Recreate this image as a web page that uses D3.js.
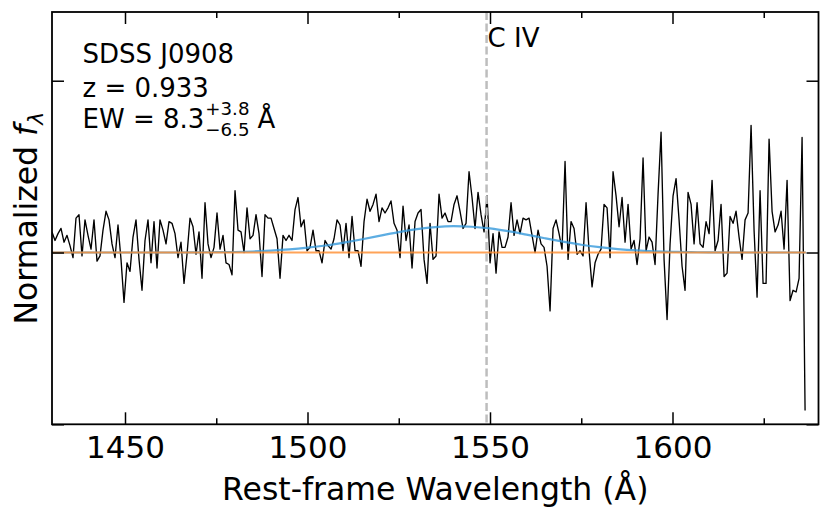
<!DOCTYPE html>
<html>
<head>
<meta charset="utf-8">
<script src="https://cdn.jsdelivr.net/npm/d3@7"></script>
<style>
  body { margin: 0; background: #fff; }
  svg text { font-family: "DejaVu Sans", sans-serif; fill: #000; }
</style>
</head>
<body>
<script>
// normalized spectrum, one value per pixel starting at waveStart
var waveStart = 1430;
var waveStep = 0.822;
var flux = [
  1.12,1.07,1.11,1.14,1.06,1.10,1.04,0.97,1.20,1.22,0.98,1.19,1.10,1.02,1.19,0.95,0.98,1.13,1.24,1.19,
  1.05,0.97,1.16,0.96,0.71,0.94,0.89,1.09,1.19,0.96,0.78,1.07,1.19,0.94,1.18,0.91,1.19,1.13,1.05,1.18,
  1.17,1.11,0.97,1.06,0.82,0.99,1.20,1.15,0.99,1.12,0.85,1.29,1.05,0.97,1.03,1.23,1.02,1.10,0.94,0.93,
  0.87,1.36,1.13,1.12,1.00,1.26,1.08,1.10,1.22,1.11,0.86,1.22,1.20,1.20,1.14,1.08,0.85,1.10,1.07,1.10,
  1.07,1.25,1.32,1.15,1.19,1.01,1.03,1.13,1.01,1.01,0.94,1.07,1.04,1.02,1.08,1.19,1.16,1.01,1.17,0.97,
  1.21,1.01,1.01,0.92,1.18,1.31,1.24,1.28,1.34,1.18,1.26,1.23,1.26,1.30,1.17,1.13,0.97,1.27,1.07,1.16,
  0.91,1.18,1.23,1.25,0.96,0.82,1.17,0.96,0.98,1.34,1.20,1.23,1.18,1.18,1.28,1.33,1.24,1.14,1.17,1.47,
  1.32,1.14,1.35,1.22,1.12,1.33,0.94,1.11,0.88,1.12,1.03,1.03,1.09,
  1.29,1.10,1.19,1.11,1.20,1.19,1.20,1.10,1.00,1.13,1.05,1.03,0.92,0.66,1.14,1.19,1.11,1.02,1.53,0.96,
  1.18,1.14,0.99,1.01,0.98,1.29,1.01,0.80,0.94,0.99,1.02,1.28,1.26,0.97,
  1.47,1.33,1.15,1.32,1.06,1.28,1.02,1.07,0.93,1.08,1.55,1.01,1.09,1.06,0.93,1.34,1.70,0.96,0.61,1.05,
  1.33,1.43,1.19,0.92,0.78,1.35,1.28,1.05,1.29,1.05,1.03,1.18,1.11,
  1.42,1.01,1.07,1.28,0.86,0.88,1.21,1.17,1.24,1.09,0.96,1.19,1.23,1.74,1.13,0.74,1.36,0.82,0.82,1.66,
  1.24,1.12,1.16,1.24,1.02,1.42,0.72,0.78,0.77,0.85,1.67,0.08
];

// gaussian line fit
var modelWave = [1430,1440,1450,1460,1465,1470,1475,1480,1485,1490,1495,1500,1505,1510,1515,1520,1525,1530,
  1535,1540,1545,1550,1555,1560,1565,1570,1575,1580,1585,1590,1595,1600,1605,1610,1620,1630,1636.5];
var modelFlux = [1.000,1.000,1.000,1.000,1.000,1.001,1.002,1.003,1.006,1.011,1.018,1.028,1.041,1.058,1.077,1.098,1.119,1.136,
  1.148,1.153,1.150,1.140,1.124,1.104,1.083,1.063,1.045,1.031,1.020,1.012,1.007,1.004,1.002,1.001,1.000,1.000,1.000];

// continuum
var contWave = [1430, 1636.5];
var contFlux = [1, 1];

var lineWave = 1549.06;
var lineName = "C IV";

var xMajor = [1450, 1500, 1550, 1600];
var xMinor = [1475, 1525, 1575, 1625];
var yMajor = [0, 1, 2];

var width = 831, height = 520;
var pL = 52, pR = 818.5, pT = 12, pB = 424.3;

var svg = d3.select("body").append("svg")
    .attr("width", width)
    .attr("height", height);

var x = d3.scaleLinear().domain([1430, 1640]).range([pL, pR]);
var y = d3.scaleLinear().domain([0, 2.4]).range([pB, pT]);

svg.append("clipPath").attr("id", "plotclip")
  .append("rect")
    .attr("x", pL).attr("y", pT)
    .attr("width", pR - pL).attr("height", pB - pT);

var plot = svg.append("g").attr("clip-path", "url(#plotclip)");

var spec = flux.map(function(f, i) { return {w: waveStart + i * waveStep, f: f}; });
var model = modelWave.map(function(w, i) { return {w: w, f: modelFlux[i]}; });
var cont = contWave.map(function(w, i) { return {w: w, f: contFlux[i]}; });

var line = d3.line()
    .x(function(d) { return x(d.w); })
    .y(function(d) { return y(d.f); });

plot.append("path")
    .datum(spec)
    .attr("d", line)
    .attr("fill", "none")
    .attr("stroke", "#000")
    .attr("stroke-width", 1.35)
    .attr("stroke-linejoin", "round");

plot.append("path")
    .datum(model)
    .attr("d", line.curve(d3.curveMonotoneX))
    .attr("fill", "none")
    .attr("stroke", "#3498db")
    .attr("stroke-opacity", 0.8)
    .attr("stroke-width", 2.2);

line.curve(d3.curveLinear);

plot.append("path")
    .datum(cont)
    .attr("d", line)
    .attr("fill", "none")
    .attr("stroke", "#ff8c2e")
    .attr("stroke-opacity", 0.8)
    .attr("stroke-width", 2.2);

plot.append("line")
    .attr("x1", x(lineWave)).attr("x2", x(lineWave))
    .attr("y1", pT).attr("y2", pB)
    .attr("stroke", "#bdbdbd")
    .attr("stroke-width", 2.5)
    .attr("stroke-dasharray", "8,3.5");

// ticks, all pointing inward
function ticks(axis, vals, size, transform) {
    var g = svg.append("g")
        .attr("transform", transform)
        .call(axis.tickValues(vals).tickSize(size).tickFormat(""));
    g.select(".domain").remove();
    g.selectAll("line").attr("stroke", "#000").attr("stroke-width", 1.5);
    return g;
}

ticks(d3.axisBottom(x), xMinor, -6, "translate(0," + pB + ")");
ticks(d3.axisTop(x), xMinor, -6, "translate(0," + pT + ")");
ticks(d3.axisTop(x), xMajor, -12, "translate(0," + pT + ")");
ticks(d3.axisLeft(y), yMajor, -12, "translate(" + pL + ",0)");
ticks(d3.axisRight(y), yMajor, -12, "translate(" + pR + ",0)");

var xAxis = svg.append("g")
    .attr("transform", "translate(0," + pB + ")")
    .call(d3.axisBottom(x).tickValues(xMajor).tickSize(-12).tickFormat(d3.format("d")));
xAxis.select(".domain").remove();
xAxis.selectAll("line").attr("stroke", "#000").attr("stroke-width", 1.5);
xAxis.selectAll("text")
    .attr("y", 33.4)
    .attr("dy", 0)
    .attr("font-family", "DejaVu Sans")
    .attr("font-size", 31)
    .attr("fill", "#000");

svg.append("rect")
    .attr("x", pL).attr("y", pT)
    .attr("width", pR - pL).attr("height", pB - pT)
    .attr("fill", "none")
    .attr("stroke", "#000")
    .attr("stroke-width", 1.8);

// axis labels
svg.append("text")
    .attr("x", (pL + pR) / 2)
    .attr("y", 500)
    .attr("text-anchor", "middle")
    .attr("font-size", 31.5)
    .text("Rest-frame Wavelength (Å)");

var ylab = svg.append("text")
    .attr("transform", "translate(37," + (pT + pB) / 2 + ") rotate(-90)")
    .attr("text-anchor", "middle")
    .attr("font-size", 31.5);
ylab.append("tspan").text("Normalized ");
ylab.append("tspan").attr("font-style", "italic").text("f");
ylab.append("tspan").attr("font-style", "italic").attr("font-size", 22).attr("dy", 6).text("λ");

// line label
svg.append("text")
    .attr("x", x(lineWave) + 1)
    .attr("y", 47)
    .attr("font-size", 26)
    .text(lineName);

// annotation block
var ax = 82.5;
svg.append("text").attr("x", ax).attr("y", 63).attr("font-size", 26).text("SDSS J0908");
svg.append("text").attr("x", ax).attr("y", 96.5).attr("font-size", 26).text("z = 0.933");
var ew = svg.append("text").attr("x", ax).attr("y", 128.3).attr("font-size", 26).text("EW = 8.3");
var ewEnd = ax + ew.node().getComputedTextLength() + 1;
var sup = svg.append("text").attr("x", ewEnd).attr("y", 114.5).attr("font-size", 18.2).text("+3.8");
var sub = svg.append("text").attr("x", ewEnd).attr("y", 136).attr("font-size", 18.2).text("\u22126.5");
var scriptEnd = ewEnd + Math.max(sup.node().getComputedTextLength(), sub.node().getComputedTextLength());
svg.append("text").attr("x", scriptEnd + 8).attr("y", 128.3).attr("font-size", 26).text("Å");
</script>
</body>
</html>
